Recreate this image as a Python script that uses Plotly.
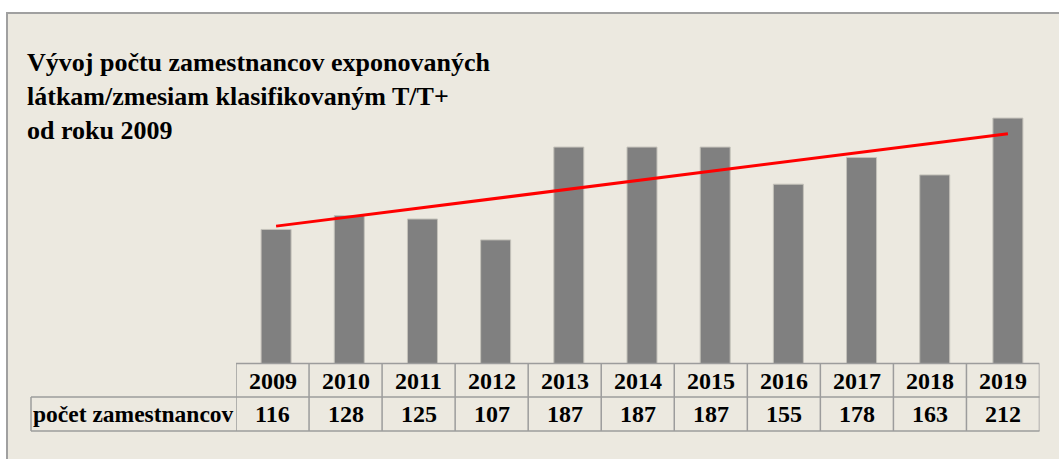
import numpy as np
import plotly.graph_objects as go

years = ["2009", "2010", "2011", "2012", "2013", "2014", "2015", "2016", "2017", "2018", "2019"]
counts = [116, 128, 125, 107, 187, 187, 187, 155, 178, 163, 212]
row_label = "počet zamestnancov"
title_lines = ["Vývoj počtu zamestnancov exponovaných",
               "látkam/zmesiam klasifikovaným T/T+",
               "od roku 2009"]

W, H = 1059, 459
def px(x):
    return x / W
def py(y):
    return 1 - y / H

SERIF = "Liberation Serif, Times New Roman, serif"
GRID = "#9C9C9C"
BG = "#ECE9E0"

idx = np.arange(len(years))
slope, intercept = np.polyfit(idx, counts, 1)
trend = slope * idx + intercept

fig = go.Figure()
fig.add_bar(x=idx, y=counts, width=0.41,
            marker=dict(color="#808080", line=dict(color="#C4C2BA", width=1)),
            hoverinfo="skip", showlegend=False)
fig.add_scatter(x=idx, y=trend, mode="lines",
                line=dict(color="#FF0000", width=3), hoverinfo="skip", showlegend=False)
# invisible trace to create the table axis
fig.add_scatter(x=idx, y=[0.5] * len(idx), xaxis="x2", yaxis="y2", mode="markers",
                marker=dict(opacity=0), hoverinfo="skip", showlegend=False)

shapes = []
# outer frame
shapes.append(dict(type="rect", xref="paper", yref="paper", x0=px(7), x1=px(1070),
                   y0=py(470), y1=py(13), line=dict(color="#A0A0A0", width=2),
                   fillcolor=BG, layer="below"))

# table geometry (in pixel rows)
y_top, y_mid, y_bot = 363.5, 397, 431
n = len(years)
for i in range(n + 1):
    shapes.append(dict(type="line", xref="x2", yref="paper", x0=i - 0.5, x1=i - 0.5,
                       y0=py(y_bot), y1=py(y_top), line=dict(color=GRID, width=1.5)))
shapes.append(dict(type="line", xref="x2", yref="paper", x0=-0.5, x1=n - 0.5,
                   y0=py(y_top), y1=py(y_top), line=dict(color=GRID, width=1.5)))
for yy in (y_mid, y_bot):
    shapes.append(dict(type="line", xref="paper", yref="paper", x0=px(31), x1=px(1039.5),
                       y0=py(yy), y1=py(yy), line=dict(color=GRID, width=1.5)))
shapes.append(dict(type="line", xref="paper", yref="paper", x0=px(31), x1=px(31),
                   y0=py(y_bot), y1=py(y_mid), line=dict(color=GRID, width=1.5)))

annotations = []
annotations.append(dict(text="<br>".join(title_lines), xref="paper", yref="paper",
                        x=px(25), y=py(46), xanchor="left", yanchor="top", align="left",
                        showarrow=False,
                        font=dict(family=SERIF, size=26, color="#000000", weight="bold")))
for i, (yr, v) in enumerate(zip(years, counts)):
    annotations.append(dict(text=yr, xref="x2", yref="paper", x=i, y=py(381),
                            xanchor="center", yanchor="middle", showarrow=False,
                            font=dict(family=SERIF, size=24, color="#000000", weight="bold")))
    annotations.append(dict(text=str(v), xref="x2", yref="paper", x=i, y=py(414),
                            xanchor="center", yanchor="middle", showarrow=False,
                            font=dict(family=SERIF, size=24, color="#000000", weight="bold")))
annotations.append(dict(text=row_label, xref="paper", yref="paper", x=px(31), y=py(414),
                        xanchor="left", yanchor="middle", showarrow=False,
                        font=dict(family=SERIF, size=23.5, color="#000000", weight="bold")))

fig.update_layout(
    width=W, height=H,
    margin=dict(l=0, r=0, t=0, b=0),
    paper_bgcolor="#FFFFFF", plot_bgcolor="rgba(0,0,0,0)",
    xaxis=dict(domain=[px(239.5), px(1044.5)], range=[-0.5, n - 0.5], visible=False,
               fixedrange=True),
    yaxis=dict(domain=[py(364), py(74)], range=[0, 250], visible=False, fixedrange=True),
    xaxis2=dict(domain=[px(236), px(1039.5)], range=[-0.5, n - 0.5], visible=False,
                anchor="y2", fixedrange=True),
    yaxis2=dict(domain=[0, 1], range=[0, 1], visible=False, anchor="x2", fixedrange=True),
    shapes=shapes, annotations=annotations,
    showlegend=False, bargap=0, hovermode=False,
)

fig.write_html("out.html", config={"displayModeBar": False, "staticPlot": True},
               post_script="document.body.style.margin='0';document.body.style.overflow='hidden';")
